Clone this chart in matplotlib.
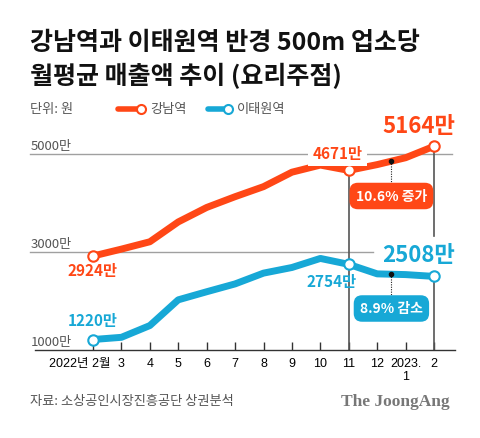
import matplotlib
matplotlib.use("Agg")
import matplotlib.pyplot as plt
from matplotlib.lines import Line2D

plt.rcParams['font.family'] = ['Noto Sans CJK KR', 'DejaVu Sans']

# data (monthly average sales per store, unit: 10k won)
months = ['2022년 2월', '3', '4', '5', '6', '7', '8', '9', '10', '11', '12', '2023.\n1', '2']
gangnam = [2924, 3065, 3215, 3620, 3915, 4135, 4340, 4635, 4780, 4671, 4790, 4930, 5164]
itaewon = [1220, 1265, 1505, 2030, 2195, 2355, 2575, 2690, 2875, 2754, 2560, 2545, 2508]
grid_vals = [5000, 3000, 1000]

ORANGE = '#FF4716'
BLUE = '#17A8D6'
GRAY = '#555555'

W, H, DPI = 480, 439, 100
# pixel layout of the plotting frame
X0_PX, DX_PX = 93, 28.42              # x pixel of first month, spacing
Y1000_PX, PX_PER_UNIT = 351.3, 0.049  # y pixel of 1000, pixels per value unit


def px_x(px):
    return (px - X0_PX) / DX_PX


def px_y(py):
    return 1000 + (Y1000_PX - py) / PX_PER_UNIT


fig = plt.figure(figsize=(W / DPI, H / DPI), dpi=DPI)
ax = fig.add_axes([0, 0, 1, 1])
ax.set_xlim(px_x(0), px_x(W))
ax.set_ylim(px_y(H), px_y(0))
for s in ['top', 'left', 'right']:
    ax.spines[s].set_visible(False)
ax.spines['bottom'].set_position(('data', 1000))
ax.spines['bottom'].set_bounds(px_x(35), px_x(455))
ax.spines['bottom'].set_color('#333333')
ax.spines['bottom'].set_linewidth(1.0)
ax.set_yticks([])
ax.set_xticks(range(len(months)))
ax.set_xticklabels([''] + months[1:], family=['Liberation Sans', 'Noto Sans CJK KR'],
                   fontsize=9, linespacing=1.1)
ax.tick_params(axis='x', direction='in', length=6, width=1, color='#333333', pad=5)
ax.annotate(months[0], (0, 1000), xytext=(-13, -13), textcoords='offset pixels',
            ha='center', va='center', fontsize=9,
            family=['Liberation Sans', 'Noto Sans CJK KR'])

# grid lines
grid_ends = {5000: px_x(452), 3000: px_x(373)}
for v in grid_vals:
    if v in grid_ends:
        ax.plot([px_x(30), grid_ends[v]], [v, v], color='#a0a0a0', lw=1, zorder=1)
    ax.annotate(f'{v}만', (px_x(31), v), xytext=(0, 2), textcoords='offset pixels',
                ha='left', va='bottom', fontsize=9.5, color=GRAY)

# vertical reference lines
nov, last = 9, len(months) - 1
ax.plot([nov, nov], [1000, gangnam[nov]], color='#555555', lw=1.2, zorder=2)
ax.plot([last, last], [px_y(237), gangnam[last]], color='#555555', lw=1.2, zorder=2)
ax.plot([last, last], [1000, itaewon[last]], color='#555555', lw=1.2, zorder=2)

x = list(range(len(months)))
mk = [0, nov, last]
ax.plot(x, gangnam, color=ORANGE, lw=5, solid_capstyle='round', solid_joinstyle='round',
        marker='o', markevery=mk, ms=7.5, mfc='white', mec=ORANGE, mew=1.5, zorder=4)
ax.plot(x, itaewon, color=BLUE, lw=5, solid_capstyle='round', solid_joinstyle='round',
        marker='o', markevery=mk, ms=7.5, mfc='white', mec=BLUE, mew=1.5, zorder=4)


# value labels
def vlabel(i, series, text, color, dx, dy, size, box=False):
    kw = {}
    if box:
        kw['bbox'] = dict(boxstyle='square,pad=0.3', fc='white', ec='none')
    ax.annotate(text, (i, series[i]), xytext=(dx, dy), textcoords='offset pixels',
                ha='center', va='center', fontsize=size, fontweight='bold', color=color,
                zorder=5, **kw)


vlabel(0, gangnam, f'{gangnam[0]}만', ORANGE, 0, -14, 11)
vlabel(nov, gangnam, f'{gangnam[nov]}만', ORANGE, -11, 17, 11, box=True)
vlabel(last, gangnam, f'{gangnam[last]}만', ORANGE, -15, 21, 16)
vlabel(0, itaewon, f'{itaewon[0]}만', BLUE, 0, 19.5, 11)
vlabel(nov, itaewon, f'{itaewon[nov]}만', BLUE, -17, -16.5, 11)
vlabel(last, itaewon, f'{itaewon[last]}만', BLUE, -15, 22, 16)

# change boxes with dotted leaders
mid = 10.5
g_mid = (gangnam[10] + gangnam[11]) / 2
b_mid = (itaewon[10] + itaewon[11]) / 2
g_pct = (gangnam[last] / gangnam[nov] - 1) * 100
b_pct = (1 - itaewon[last] / itaewon[nov]) * 100
for ym, ytop, yc, txt, col in [(g_mid, px_y(183), px_y(197), f'{g_pct:.1f}% 증가', ORANGE),
                               (b_mid, px_y(297), px_y(309.5), f'{b_pct:.1f}% 감소', BLUE)]:
    ax.plot([mid, mid], [ym, ytop], color='#222222', lw=0.8, ls=(0, (1, 1.2)), zorder=5)
    ax.plot([mid], [ym], 'o', color='#111111', ms=3, zorder=6)
    ax.annotate(txt, (mid, yc), ha='center', va='center', fontsize=10, fontweight='bold',
                color='white', zorder=7,
                bbox=dict(boxstyle='round,pad=0.45,rounding_size=0.6', fc=col, ec='none'))

# title
fig.text(30 / W, 1 - 43 / H, '강남역과 이태원역 반경 500m 업소당', fontsize=18,
         fontweight='bold', ha='left', va='center', color='#111111')
fig.text(30 / W, 1 - 76 / H, '월평균 매출액 추이 (요리주점)', fontsize=18,
         fontweight='bold', ha='left', va='center', color='#111111')

# unit and legend
fig.text(30 / W, 1 - 110 / H, '단위: 원', fontsize=9.5, ha='left', va='center', color=GRAY)
for x0, x1, col, name in [(118, 141, ORANGE, '강남역'), (208, 228, BLUE, '이태원역')]:
    yy = 1 - 110 / H
    fig.add_artist(Line2D([x0 / W, x1 / W], [yy, yy], color=col, lw=4,
                          solid_capstyle='round'))
    fig.add_artist(Line2D([x1 / W], [yy], marker='o', ms=6.5, mfc='white', mec=col,
                          mew=1.5))
    fig.text((x1 + 9) / W, yy, name, fontsize=9.5, ha='left', va='center', color=GRAY)

# footer
fig.text(30 / W, 1 - 402 / H, '자료: 소상공인시장진흥공단 상권분석', fontsize=9.5,
         ha='left', va='center', color=GRAY)
fig.text(450 / W, 1 - 402 / H, 'The JoongAng', fontsize=12.5, fontweight='bold',
         family='Liberation Serif', ha='right', va='center', color='#777777')

fig.savefig('out.png', dpi=DPI, facecolor='white')
